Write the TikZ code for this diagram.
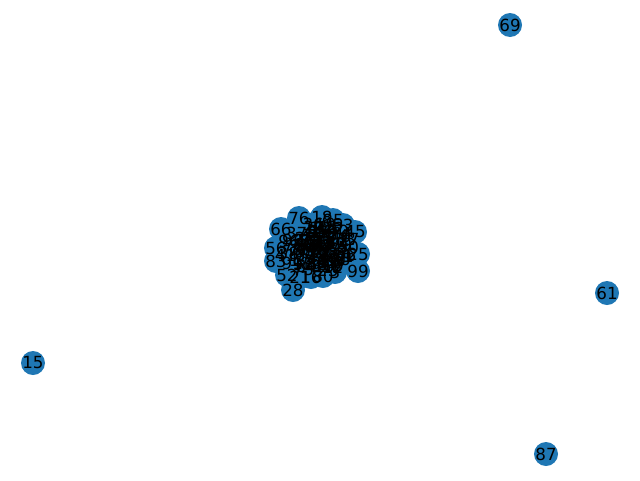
\documentclass[tikz,border=0pt]{standalone}
\usepackage{fontspec}
\setmainfont{DejaVu Sans}
\definecolor{nxblue}{HTML}{1F77B4}
\tikzset{
  nodedisc/.style={circle, fill=nxblue, minimum size=24pt, inner sep=0pt},
  nodelabel/.style={inner sep=0pt, font=\fontsize{16.7}{16.7}\selectfont, text=black},
  edgeline/.style={draw=black, line width=1pt}
}
\begin{document}
\begin{tikzpicture}[x=1pt,y=-1pt]
\useasboundingbox (0,0) rectangle (640,480);
\pgfmathsetseed{7}
% fixed nodes on the rim of the cluster
\foreach \lab/\px/\py [count=\i] in {76/299/218, 18/322/217, 85/333/220, 53/343/225, 45/355/232, 66/281/229, 56/276/248, 83/276/261, 52/287/275, 21/300/277, 16/311/277, 80/323/276, 3/335/272, 28/293/290, 25/358/254, 99/358/271}{
  \coordinate (p\i) at (\px,\py);
  \expandafter\xdef\csname nlab\i\endcsname{\lab}
}
% inner nodes of the cluster
\foreach \lab [count=\j from 17] in {0,1,2,4,5,6,7,8,9,10,11,12,13,14,17,19,20,22,23,24,26,27,29,30,31,32,33,34,35,36,37,38,39,40,41,42,43,44,46,47,48,49,50,51,54,55,57,58,59,60,62,63,64,65,67,68,70,71,72,73,74,75,77,78,79,81,82,84,86,88,89,90,91,92,93,94,95,96,97,98}{
  \pgfmathsetmacro\rr{sqrt(rnd)}
  \pgfmathsetmacro\th{360*rnd}
  \coordinate (p\j) at ({317+35*\rr*cos(\th)},{248+25*\rr*sin(\th)});
  \expandafter\xdef\csname nlab\j\endcsname{\lab}
}
% isolated nodes
\foreach \lab/\px/\py [count=\k from 97] in {69/510/25, 15/33/363, 61/607/293, 87/546/454}{
  \coordinate (p\k) at (\px,\py);
  \expandafter\xdef\csname nlab\k\endcsname{\lab}
}
% edges
\foreach \e in {1,...,260}{
  \pgfmathtruncatemacro\ea{random(1,96)}
  \pgfmathtruncatemacro\eb{random(1,96)}
  \draw[edgeline] (p\ea) -- (p\eb);
}
% discs
\foreach \i in {1,...,100}{
  \node[nodedisc] (n\i) at (p\i) {};
}
% labels
\foreach \i in {1,...,100}{
  \node[nodelabel] (t\i) at (p\i) {\csname nlab\i\endcsname};
}
\end{tikzpicture}
\end{document}
